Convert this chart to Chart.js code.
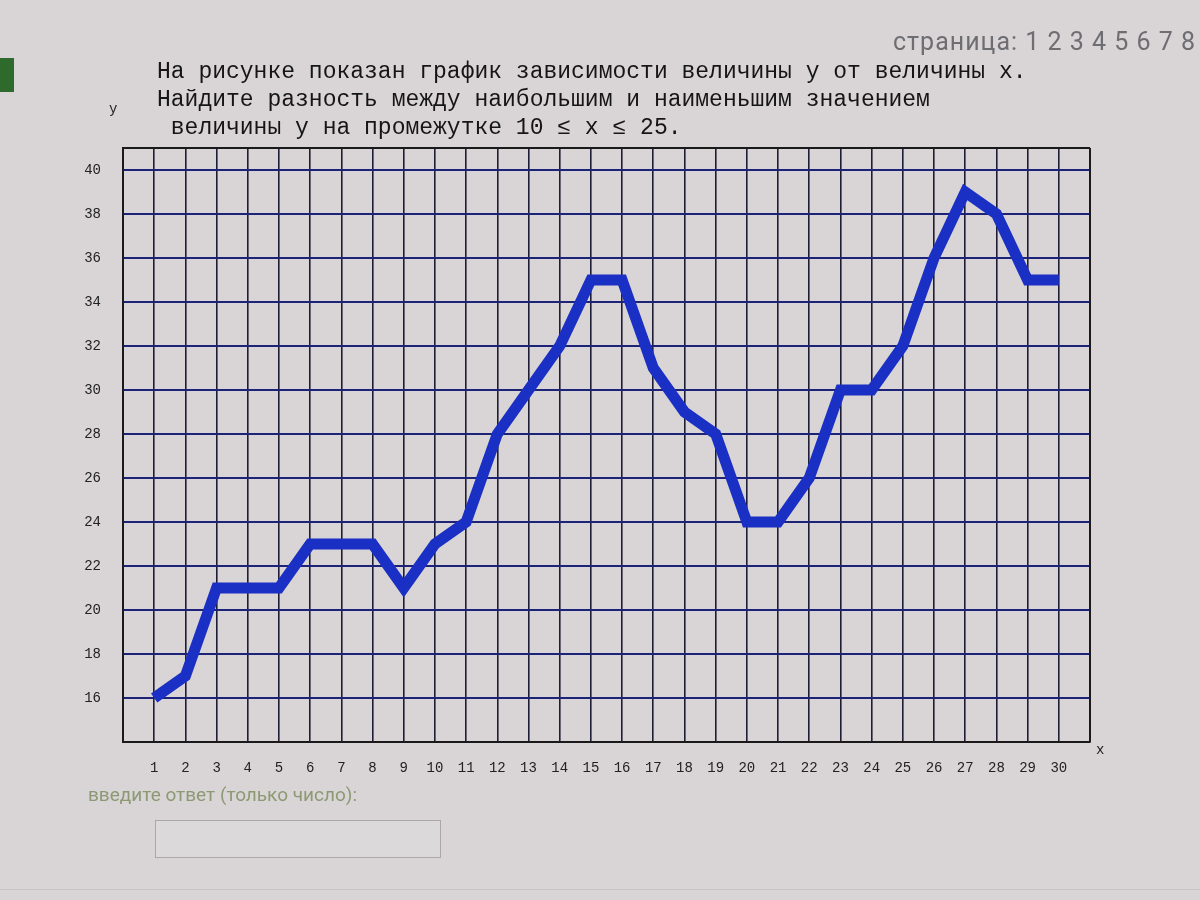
<!DOCTYPE html>
<html>
<head>
<meta charset="utf-8">
<script src="https://cdn.jsdelivr.net/npm/chart.js@4.4.1/dist/chart.umd.min.js"></script>
<style>
  html, body { margin:0; padding:0; width:1200px; height:900px; background:#d9d4d5; overflow:hidden; }
  #wrap { position:relative; width:1200px; height:900px; }
  canvas { position:absolute; left:0; top:0; }
  .t { position:absolute; white-space:pre; }
  .task { font-family:"Liberation Mono","DejaVu Sans Mono",monospace; font-size:23px; color:#151515; left:157px; line-height:28px; }
  .pages { font-family:"Roboto","Liberation Sans",sans-serif; font-size:25px; color:#6d6d72; left:893px; top:27px; letter-spacing:1px; }
  .ax { font-family:"Liberation Mono","DejaVu Sans Mono",monospace; font-size:14px; color:#222; }
  .green { position:absolute; left:0; top:58px; width:14px; height:34px; background:#2e6a2b; }
  .ans { font-family:"Roboto","Liberation Sans",sans-serif; font-size:19px; color:#8c9a74; left:88px; top:783px; }
  .box { position:absolute; left:155px; top:820px; width:284px; height:36px; border:1px solid #a9a7a8; background:#dcd9da; }
  .bottom { position:absolute; left:0; top:889px; width:1200px; height:1px; background:#c6c3c4; }
</style>
</head>
<body>
<div id="wrap">
  <canvas id="c" width="1200" height="900"></canvas>
  <div class="t pages">страница: 1 2 3 4 5 6 7 8</div>
  <div class="green"></div>
  <div class="t task" style="top:58px;">На рисунке показан график зависимости величины у от величины х.</div>
  <div class="t task" style="top:86px;">Найдите разность между наибольшим и наименьшим значением</div>
  <div class="t task" style="top:114px;"> величины у на промежутке 10 ≤ х ≤ 25.</div>
  <div class="t ax" style="left:109px; top:101px;">у</div>
  <div class="t ax" style="left:1096px; top:742px;">x</div>
  <div class="t ans">введите ответ (только число):</div>
  <div class="box"></div>
  <div class="bottom"></div>
</div>
<script>
const xValues = [1,2,3,4,5,6,7,8,9,10,11,12,13,14,15,16,17,18,19,20,21,22,23,24,25,26,27,28,29,30];
const yValues = [16,17,21,21,21,23,23,23,21,23,24,28,30,32,35,35,31,29,28,24,24,26,30,30,32,36,39,38,35,35];
const xGridValues = [0,1,2,3,4,5,6,7,8,9,10,11,12,13,14,15,16,17,18,19,20,21,22,23,24,25,26,27,28,29,30,31];
const xTickLabels = ['','1','2','3','4','5','6','7','8','9','10','11','12','13','14','15','16','17','18','19','20','21','22','23','24','25','26','27','28','29','30',''];
const yGridValues = [14,16,18,20,22,24,26,28,30,32,34,36,38,40,41];
const yTickLabels = ['','16','18','20','22','24','26','28','30','32','34','36','38','40',''];

const points = xValues.map((x, i) => ({ x: x, y: yValues[i] }));

new Chart(document.getElementById('c'), {
  type: 'line',
  data: {
    datasets: [{
      data: points,
      borderColor: '#1a2fc4',
      borderWidth: 11,
      pointRadius: 0,
      tension: 0,
      borderJoinStyle: 'miter',
      borderCapStyle: 'butt',
      fill: false
    }]
  },
  options: {
    responsive: false,
    animation: false,
    events: [],
    layout: { padding: { left: 63, right: 110, top: 148, bottom: 118 } },
    plugins: { legend: { display: false }, tooltip: { enabled: false } },
    scales: {
      x: {
        type: 'linear',
        min: 0, max: 31,
        afterBuildTicks: s => { s.ticks = xGridValues.map(v => ({ value: v })); },
        afterFit: s => { s.height = 40; },
        grid: { color: '#1d1d35', lineWidth: 1.6, drawTicks: false },
        border: { color: '#1a1a1a', width: 2 },
        ticks: {
          autoSkip: false, maxRotation: 0, padding: 18,
          color: '#222', font: { family: 'Liberation Mono', size: 14 },
          callback: (v, i) => xTickLabels[i]
        }
      },
      y: {
        type: 'linear',
        min: 14, max: 41,
        afterBuildTicks: s => { s.ticks = yGridValues.map(v => ({ value: v })); },
        afterFit: s => { s.width = 60; },
        grid: { color: (ctx) => ctx.tick && ctx.tick.value === 41 ? '#1a1a1a' : '#1c2378', lineWidth: 2, drawTicks: false },
        border: { color: '#1a1a1a', width: 2 },
        ticks: {
          autoSkip: false, padding: 22,
          color: '#222', font: { family: 'Liberation Mono', size: 14 },
          callback: (v, i) => yTickLabels[i]
        }
      }
    }
  },
  plugins: [{
    id: 'rightBorder',
    afterDraw(chart) {
      const a = chart.chartArea, c = chart.ctx;
      c.save(); c.strokeStyle = '#1a1a1a'; c.lineWidth = 2;
      c.beginPath(); c.moveTo(a.right, a.top); c.lineTo(a.right, a.bottom); c.stroke();
      c.restore();
    }
  }]
});
</script>
</body>
</html>
